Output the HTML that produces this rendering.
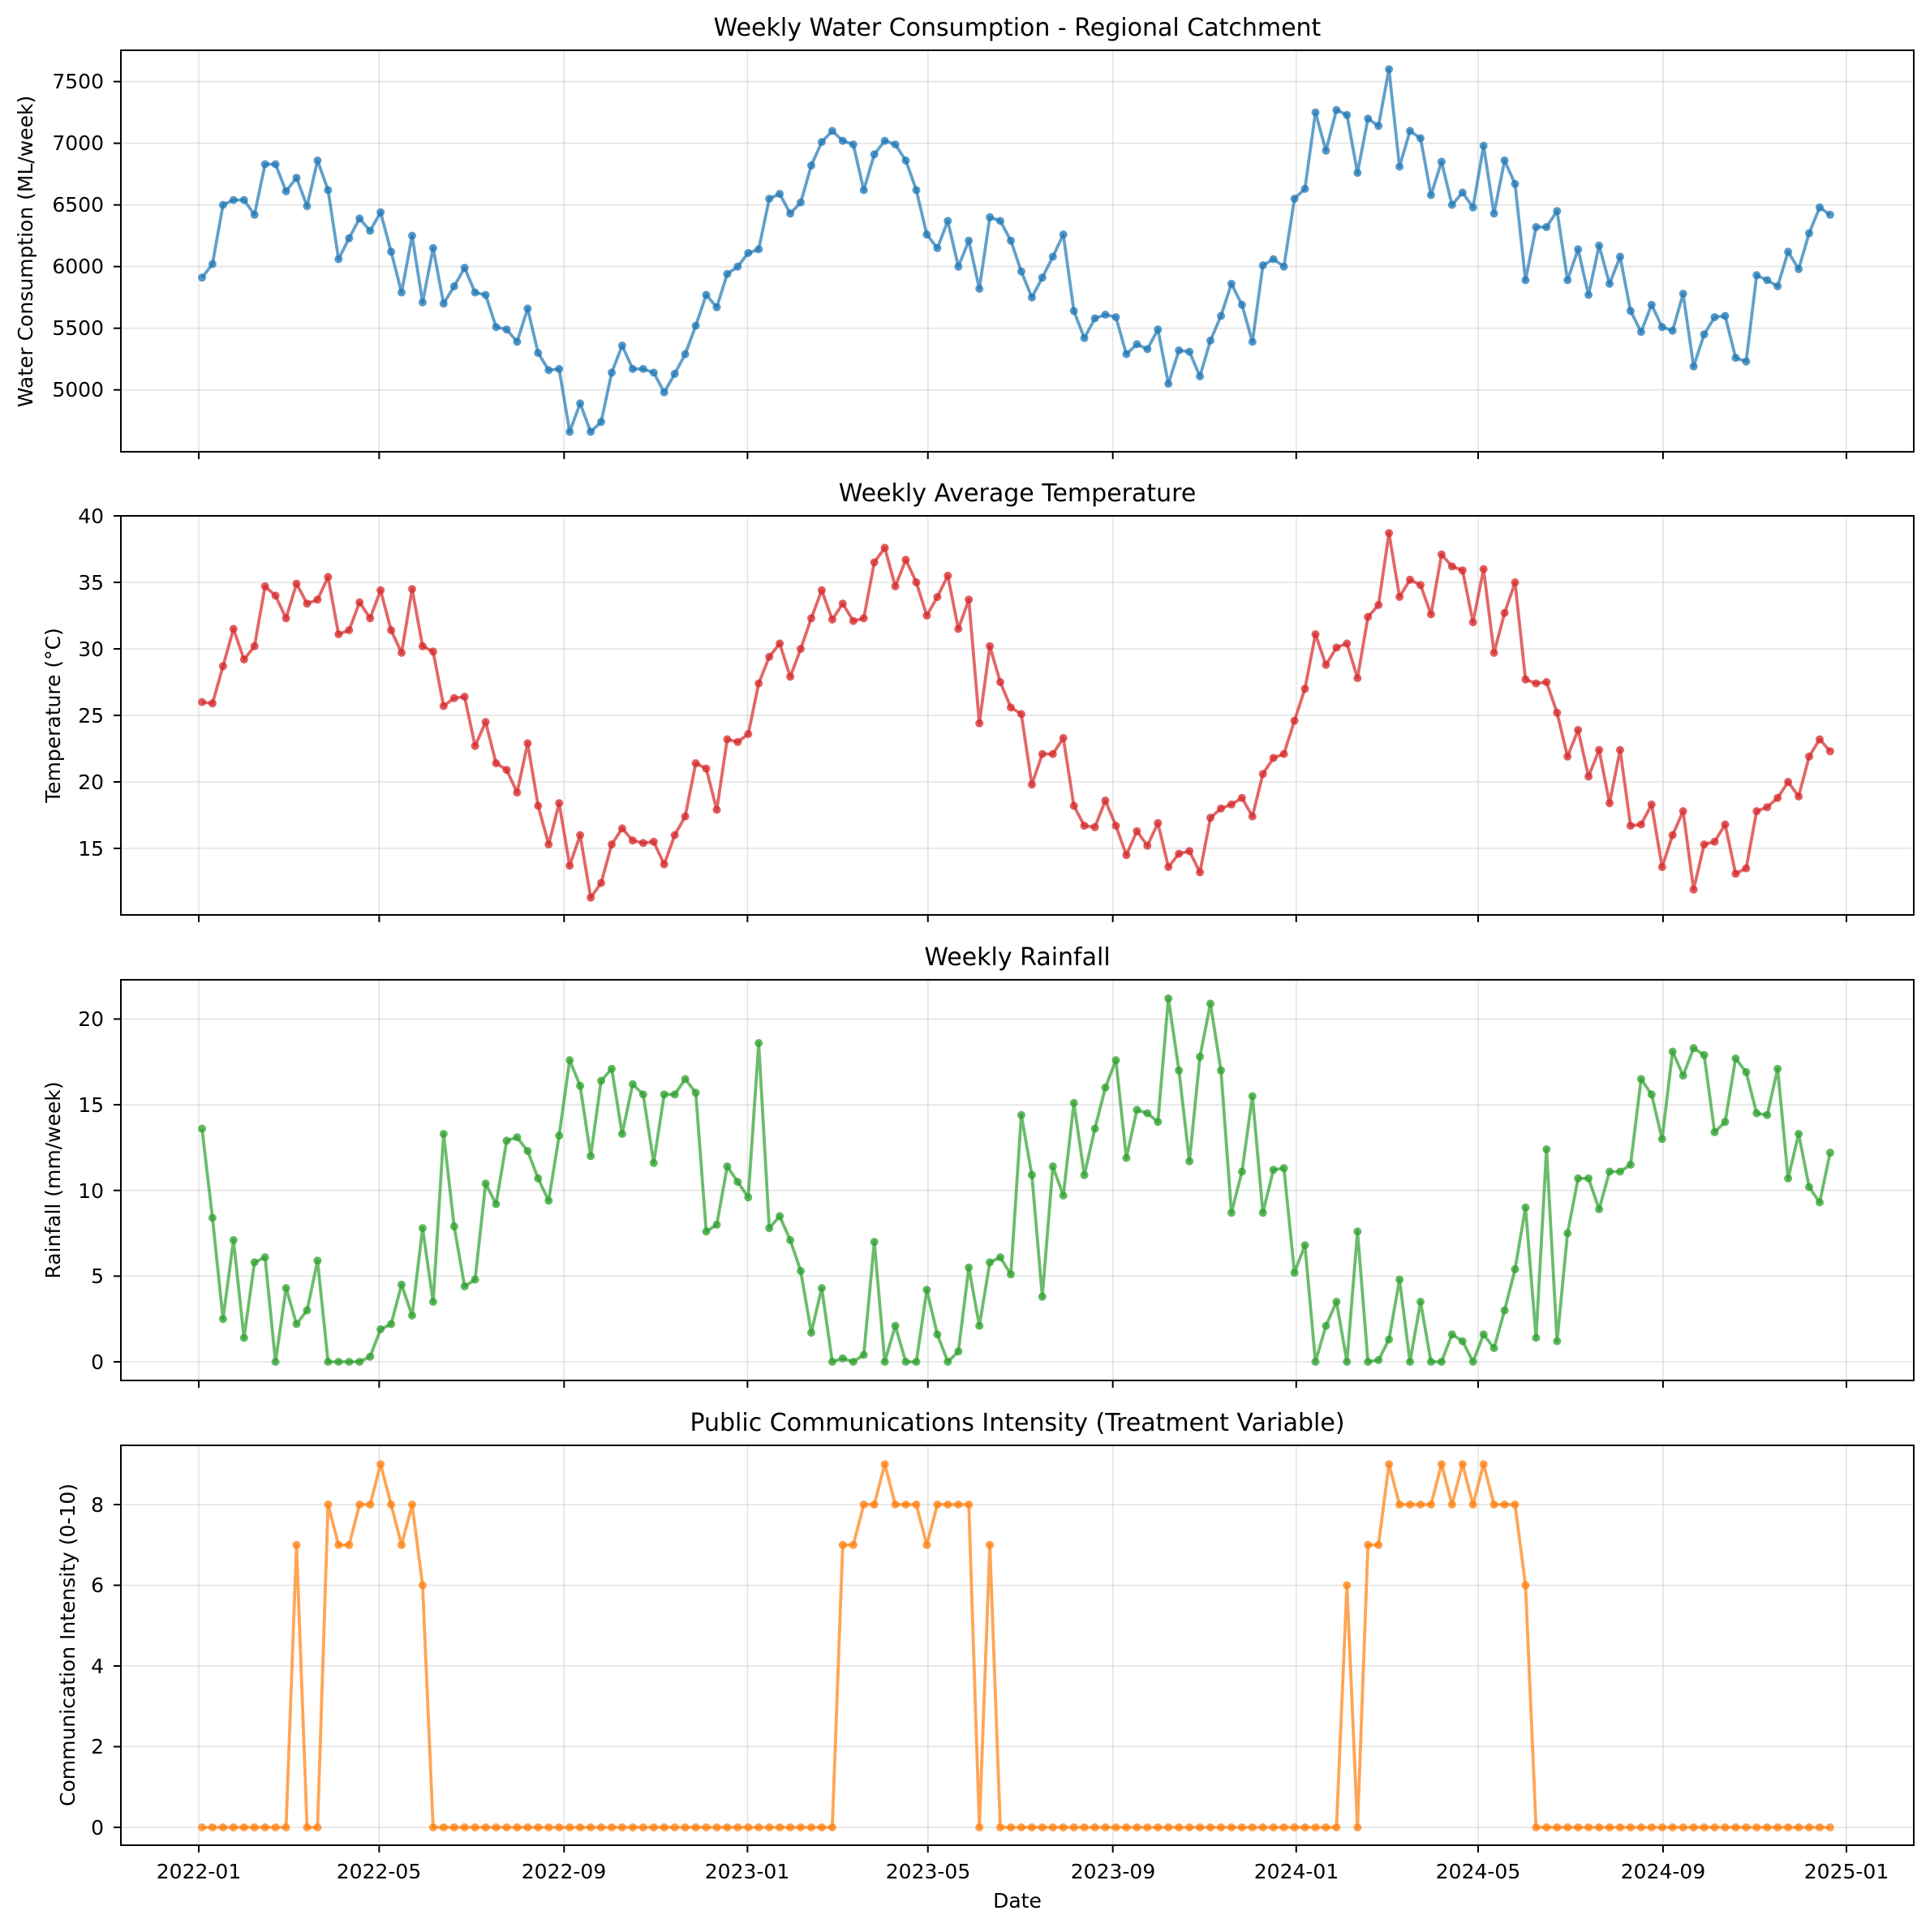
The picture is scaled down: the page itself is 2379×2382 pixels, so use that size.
<!DOCTYPE html>
<html><head><meta charset="utf-8"><style>
html,body{margin:0;padding:0;background:#fff;}
svg{display:block;}
text{font-family:"DejaVu Sans","Liberation Sans",sans-serif;fill:#000;}
</style></head><body>
<svg id="s" width="2379" height="2382" viewBox="0 0 2379 2382" xmlns="http://www.w3.org/2000/svg">
<rect width="2379" height="2382" fill="#fff"/>
<g id="grid"></g>
<g id="data"></g>
<g id="frames" fill="none" stroke="#000" stroke-width="2">
<rect x="149" y="62" width="2210" height="495"/>
<rect x="149" y="636" width="2210" height="492"/>
<rect x="149" y="1208" width="2210" height="494"/>
<rect x="149" y="1782" width="2210" height="493"/>
</g>
<g id="ticks" stroke="#000" stroke-width="2"></g>
<g font-size="30" text-anchor="middle">
<text x="1254" y="44">Weekly Water Consumption - Regional Catchment</text>
<text x="1254" y="618">Weekly Average Temperature</text>
<text x="1254" y="1190">Weekly Rainfall</text>
<text x="1254" y="1764">Public Communications Intensity (Treatment Variable)</text>
</g>
<g font-size="25" text-anchor="middle">
<text transform="translate(40,310) rotate(-90)">Water Consumption (ML/week)</text>
<text transform="translate(74,882) rotate(-90)">Temperature (°C)</text>
<text transform="translate(74,1455) rotate(-90)">Rainfall (mm/week)</text>
<text transform="translate(92,2028) rotate(-90)">Communication Intensity (0-10)</text>
<text x="1254" y="2352">Date</text>
</g>
<g font-size="25" text-anchor="end">
<text x="128" y="109">7500</text><text x="128" y="185">7000</text><text x="128" y="261">6500</text>
<text x="128" y="337">6000</text><text x="128" y="413">5500</text><text x="128" y="489">5000</text>
<text x="128" y="645">40</text><text x="128" y="727">35</text><text x="128" y="809">30</text>
<text x="128" y="891">25</text><text x="128" y="973">20</text><text x="128" y="1055">15</text>
<text x="128" y="1265">20</text><text x="128" y="1371">15</text><text x="128" y="1477">10</text>
<text x="128" y="1582">5</text><text x="128" y="1688">0</text>
<text x="128" y="1864">8</text><text x="128" y="1963">6</text><text x="128" y="2063">4</text>
<text x="128" y="2162">2</text><text x="128" y="2262">0</text>
</g>
<g font-size="25" text-anchor="middle">
<text x="245" y="2316">2022-01</text><text x="467" y="2316">2022-05</text><text x="695" y="2316">2022-09</text>
<text x="921" y="2316">2023-01</text><text x="1144" y="2316">2023-05</text><text x="1372" y="2316">2023-09</text>
<text x="1598" y="2316">2024-01</text><text x="1822" y="2316">2024-05</text><text x="2050" y="2316">2024-09</text>
<text x="2276" y="2316">2025-01</text>
</g>
</svg>
<script>
(function(){
var NS="http://www.w3.org/2000/svg";
function el(p,t,a){var e=document.createElementNS(NS,t);for(var k in a)e.setAttribute(k,a[k]);p.appendChild(e);return e;}
var grid=document.getElementById('grid'),data=document.getElementById('data'),ticks=document.getElementById('ticks');
var L=149,R=2359;
var panels=[{t:62,b:557},{t:636,b:1128},{t:1208,b:1702},{t:1782,b:2275}];
var days=[0,120,243,365,485,608,730,851,974,1096];
function X(d){return 245+d*1.8531;}
panels.forEach(function(p){
 days.forEach(function(d){var x=X(d);
  el(grid,'line',{x1:x,x2:x,y1:p.t,y2:p.b,stroke:'#b0b0b0','stroke-opacity':0.35,'stroke-width':1.6});
  el(ticks,'line',{x1:x,x2:x,y1:p.b,y2:p.b+9});});
});
function yt(vals,f){vals.forEach(function(v){var y=f(v);
 el(grid,'line',{x1:L,x2:R,y1:y,y2:y,stroke:'#b0b0b0','stroke-opacity':0.35,'stroke-width':1.6});
 el(ticks,'line',{x1:L-9,x2:L,y1:y,y2:y});});}
var f1=function(v){return 100.6+(7500-v)*0.15204;};
var f2=function(v){return 636+(40-v)*16.4;};
var f3=function(v){return 1679-v*21.13;};
var f4=function(v){return 2253-v*49.75;};
yt([5000,5500,6000,6500,7000,7500],f1);
yt([15,20,25,30,35,40],f2);
yt([0,5,10,15,20],f3);
yt([0,2,4,6,8],f4);
var water=[5910,6020,6500,6540,6540,6420,6830,6830,6610,6720,6490,6860,6620,6060,6230,6390,6290,6440,6120,5790,6250,5710,6150,5700,5840,5990,5790,5770,5510,5490,5390,5660,5300,5160,5170,4660,4890,4660,4740,5140,5360,5170,5170,5140,4980,5130,5290,5520,5770,5670,5940,6000,6110,6140,6550,6590,6430,6520,6820,7010,7100,7020,6990,6620,6910,7020,6990,6860,6620,6260,6150,6370,6000,6210,5820,6400,6370,6210,5960,5750,5910,6080,6260,5640,5420,5580,5610,5590,5290,5370,5330,5490,5050,5320,5310,5110,5400,5600,5860,5690,5390,6010,6060,6000,6550,6630,7250,6940,7270,7230,6760,7200,7140,7600,6810,7100,7040,6580,6850,6500,6600,6480,6980,6430,6860,6670,5890,6320,6320,6450,5890,6140,5770,6170,5860,6080,5640,5470,5690,5510,5480,5780,5190,5450,5590,5600,5260,5230,5930,5890,5840,6120,5980,6270,6480,6420];
var temp=[26.0,25.9,28.7,31.5,29.2,30.2,34.7,34.0,32.3,34.9,33.4,33.7,35.4,31.1,31.4,33.5,32.3,34.4,31.4,29.7,34.5,30.2,29.8,25.7,26.3,26.4,22.7,24.5,21.4,20.9,19.2,22.9,18.2,15.3,18.4,13.7,16.0,11.3,12.4,15.3,16.5,15.6,15.4,15.5,13.8,16.0,17.4,21.4,21.0,17.9,23.2,23.0,23.6,27.4,29.4,30.4,27.9,30.0,32.3,34.4,32.2,33.4,32.1,32.3,36.5,37.6,34.7,36.7,35.0,32.5,33.9,35.5,31.5,33.7,24.4,30.2,27.5,25.6,25.1,19.8,22.1,22.1,23.3,18.2,16.7,16.6,18.6,16.7,14.5,16.3,15.2,16.9,13.6,14.6,14.8,13.2,17.3,18.0,18.3,18.8,17.4,20.6,21.8,22.1,24.6,27.0,31.1,28.8,30.1,30.4,27.8,32.4,33.3,38.7,33.9,35.2,34.8,32.6,37.1,36.2,35.9,32.0,36.0,29.7,32.7,35.0,27.7,27.4,27.5,25.2,21.9,23.9,20.4,22.4,18.4,22.4,16.7,16.8,18.3,13.6,16.0,17.8,11.9,15.3,15.5,16.8,13.1,13.5,17.8,18.1,18.8,20.0,18.9,21.9,23.2,22.3];
var rain=[13.6,8.4,2.5,7.1,1.4,5.8,6.1,0,4.3,2.2,3.0,5.9,0,0,0,0,0.3,1.9,2.2,4.5,2.7,7.8,3.5,13.3,7.9,4.4,4.8,10.4,9.2,12.9,13.1,12.3,10.7,9.4,13.2,17.6,16.1,12.0,16.4,17.1,13.3,16.2,15.6,11.6,15.6,15.6,16.5,15.7,7.6,8.0,11.4,10.5,9.6,18.6,7.8,8.5,7.1,5.3,1.7,4.3,0,0.2,0,0.4,7.0,0,2.1,0,0,4.2,1.6,0,0.6,5.5,2.1,5.8,6.1,5.1,14.4,10.9,3.8,11.4,9.7,15.1,10.9,13.6,16.0,17.6,11.9,14.7,14.5,14.0,21.2,17.0,11.7,17.8,20.9,17.0,8.7,11.1,15.5,8.7,11.2,11.3,5.2,6.8,0,2.1,3.5,0,7.6,0,0.1,1.3,4.8,0,3.5,0,0,1.6,1.2,0,1.6,0.8,3.0,5.4,9.0,1.4,12.4,1.2,7.5,10.7,10.7,8.9,11.1,11.1,11.5,16.5,15.6,13.0,18.1,16.7,18.3,17.9,13.4,14.0,17.7,16.9,14.5,14.4,17.1,10.7,13.3,10.2,9.3,12.2];
var comm=[];for(var i=0;i<156;i++)comm.push(0);
var set={10:7,13:8,14:7,15:7,16:8,17:8,18:9,19:8,20:7,21:8,22:6,62:7,63:7,64:8,65:8,66:9,67:8,68:8,69:8,70:7,71:8,72:8,73:8,74:8,76:7,110:6,112:7,113:7,114:9,115:8,116:8,117:8,118:8,119:9,120:8,121:9,122:8,123:9,124:8,125:8,126:8,127:6};
for(var k in set)comm[k-1]=set[k];
function series(arr,f,col){
 var pts=arr.map(function(v,i){return [249+i*12.948,f(v)];});
 el(data,'polyline',{points:pts.map(function(p){return p[0].toFixed(1)+','+p[1].toFixed(1);}).join(' '),fill:'none',stroke:col,'stroke-opacity':0.7,'stroke-width':3.8,'stroke-linejoin':'round'});
 pts.forEach(function(p){el(data,'circle',{cx:p[0].toFixed(1),cy:p[1].toFixed(1),r:5,fill:col,'fill-opacity':0.75});});
}
series(water,f1,'#1f77b4');
series(temp,f2,'#d62728');
series(rain,f3,'#2ca02c');
series(comm,f4,'#ff7f0e');
})();
</script>
</body></html>
